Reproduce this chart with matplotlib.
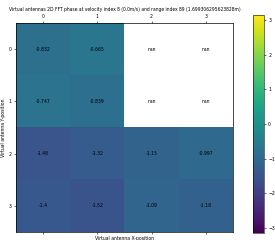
import numpy as np
import matplotlib
matplotlib.use("Agg")
import matplotlib.pyplot as plt

# phase values per virtual antenna (rows = Y position, cols = X position)
row0 = [-0.832, -0.665, np.nan, np.nan]
row1 = [-0.747, -0.839, np.nan, np.nan]
row2 = [-1.48, -1.32, -1.15, -0.997]
row3 = [-1.4, -1.52, -1.09, -1.18]
x_ticks = [0, 1, 2, 3]
y_ticks = [0, 1, 2, 3]

phase = np.array([row0, row1, row2, row3])

fig = plt.figure(figsize=(2.75, 2.4), dpi=100)
ax = fig.add_axes([0.058, 0.033, 0.789, 0.871])
cax = fig.add_axes([0.92, 0.029, 0.04, 0.908])

im = ax.matshow(phase, cmap="viridis", vmin=-np.pi, vmax=np.pi, aspect="auto")
for i in range(phase.shape[0]):
    for j in range(phase.shape[1]):
        ax.text(j, i, f"{phase[i, j]:.3g}", ha="center", va="center",
                fontsize=3.3, color="black")

ax.set_xticks(x_ticks)
ax.set_yticks(y_ticks)
ax.tick_params(labelsize=3.3, length=1.5, width=0.4, pad=1.5)
ax.set_title("Virtual antennas 2D FFT phase at velocity index 8 (0.0m/s) "
             "and range index 89 (1.699306295623828m)",
             fontsize=3.25, pad=9)
ax.set_xlabel("Virtual antenna X-position", fontsize=3.3, labelpad=1.5)
ax.set_ylabel("Virtual antenna Y-position", fontsize=3.3, labelpad=2)
for s in ax.spines.values():
    s.set_linewidth(0.5)

cb = fig.colorbar(im, cax=cax)
cb.ax.tick_params(labelsize=3.3, length=1.5, width=0.4, pad=1.5)
cb.outline.set_linewidth(0.4)

fig.savefig("out.png", dpi=100)
